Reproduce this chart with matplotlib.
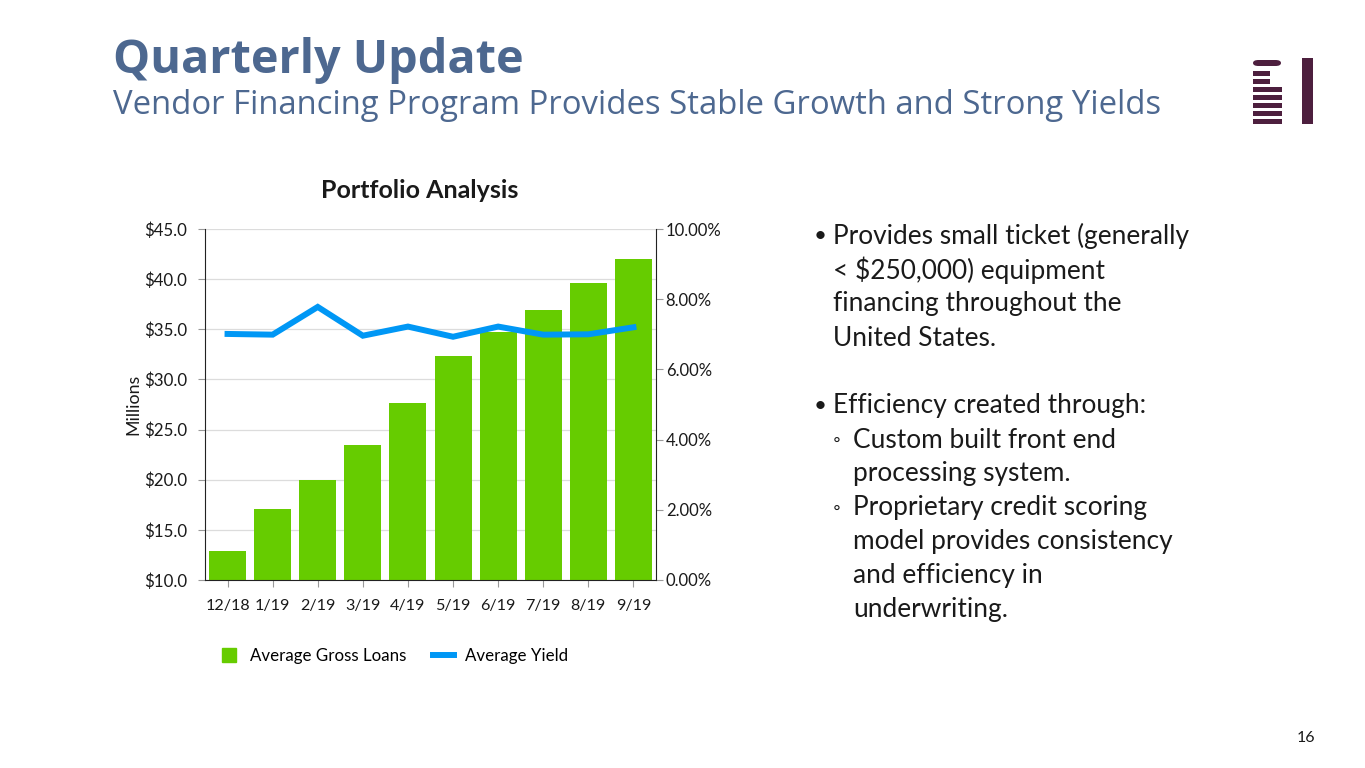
#!/usr/bin/env python3
"""Quarterly update slide: portfolio analysis bar + yield line."""

import matplotlib.pyplot as plt
from matplotlib.lines import Line2D
from matplotlib.patches import Rectangle, FancyBboxPatch
from matplotlib.ticker import FuncFormatter

MONTHS = ["12/18", "1/19", "2/19", "3/19", "4/19", "5/19", "6/19", "7/19", "8/19", "9/19"]
GROSS_LOANS = [12.9, 17.1, 20.0, 23.5, 27.6, 32.3, 34.7, 36.9, 39.6, 42.0]  # $ millions
AVG_YIELD = [7.01, 6.99, 7.78, 6.96, 7.22, 6.93, 7.22, 6.99, 7.0, 7.2]  # percent

LEFT_TICKS = [10, 15, 20, 25, 30, 35, 40, 45]
RIGHT_TICKS = [0, 2, 4, 6, 8, 10]

BULLETS = [
    ("•", 0, ["Provides small ticket (generally", "< $250,000) equipment",
              "financing throughout the", "United States."]),
    (None, 0, [""]),
    ("•", 0, ["Efficiency created through:"]),
    ("◦", 1, ["Custom built front end", "processing system."]),
    ("◦", 1, ["Proprietary credit scoring", "model provides consistency",
              "and efficiency in", "underwriting."]),
]

HEAD = "#4d6890"
GREEN = "#66cc00"
BLUE = "#0097f5"
MAROON = "#4d1f3e"
TXT = "#1a1a1a"

CHART_FONT = ["Lato", "DejaVu Sans"]
HEAD_FONT = ["Open Sans", "DejaVu Sans"]


def main() -> None:
    fig = plt.figure(figsize=(13.65, 7.68), dpi=100)
    fig.patch.set_facecolor("white")
    W, H = 1365, 768

    # slide header
    fig.text(113 / W, 1 - 73 / H, "Quarterly Update", family=HEAD_FONT,
             fontsize=33.7, fontweight="bold", color=HEAD, va="baseline")
    fig.text(113 / W, 1 - 114 / H,
             "Vendor Financing Program Provides Stable Growth and Strong Yields",
             family=HEAD_FONT, fontsize=23.7, color=HEAD, va="baseline")

    # logo
    def box(x0, y0, x1, y1):
        fig.patches.append(Rectangle((x0 / W, 1 - y1 / H), (x1 - x0) / W, (y1 - y0) / H,
                                     transform=fig.transFigure, color=MAROON, lw=0))

    fig.patches.append(FancyBboxPatch((1253 / W, 1 - 66 / H), 28 / W, 6 / H,
                                      boxstyle="round,pad=0,rounding_size=0.004",
                                      transform=fig.transFigure, color=MAROON, lw=0))
    box(1253, 71, 1270, 76)
    box(1253, 79, 1270, 84)
    for y in (87, 95, 103, 111, 119):
        box(1253, y, 1282, y + 5)
    box(1302, 58, 1313, 124)

    # chart
    ax = fig.add_axes([205 / W, 1 - 580 / H, 451 / W, 351 / H])
    x = list(range(len(MONTHS)))
    ax.bar(x, GROSS_LOANS, width=0.82, color=GREEN, zorder=2)
    ax.set_ylim(10, 45)
    ax.set_xlim(-0.5, len(MONTHS) - 0.5)
    ax.set_yticks(LEFT_TICKS)
    ax.yaxis.set_major_formatter(FuncFormatter(lambda v, _: f"${v:.1f}"))
    ax.set_xticks(x, MONTHS)
    ax.grid(axis="y", color="#dcdcdc", linewidth=0.9, zorder=0)
    ax.set_axisbelow(True)
    ax.spines["top"].set_visible(False)
    ax.spines["right"].set_visible(False)
    ax.spines["left"].set_color("#222222")
    ax.spines["bottom"].set_color("#222222")
    ax.tick_params(axis="y", length=5, color="#999999", labelsize=12.2, labelcolor=TXT, pad=8)
    ax.tick_params(axis="x", length=5, color="#999999", labelsize=11.6, labelcolor=TXT, pad=9)
    for lab in ax.get_xticklabels() + ax.get_yticklabels():
        lab.set_family(CHART_FONT)
    ax.set_ylabel("Millions", family=CHART_FONT, fontsize=12.8, color=TXT, labelpad=2)

    ax2 = ax.twinx()
    ax2.plot(x, AVG_YIELD, color=BLUE, linewidth=4.3, solid_joinstyle="miter", zorder=3)
    ax2.set_ylim(0, 10)
    ax2.set_yticks(RIGHT_TICKS)
    ax2.yaxis.set_major_formatter(FuncFormatter(lambda v, _: f"{v:.2f}%"))
    for side in ("top", "left", "bottom"):
        ax2.spines[side].set_visible(False)
    ax2.spines["right"].set_color("#222222")
    ax2.tick_params(axis="y", length=5, color="#999999", labelsize=12, labelcolor=TXT, pad=2)
    for lab in ax2.get_yticklabels():
        lab.set_family(CHART_FONT)

    fig.text(420 / W, 1 - 190 / H, "Portfolio Analysis", family=CHART_FONT, fontsize=18,
             fontweight="bold", color=TXT, ha="center", va="center")

    fig.legend(
        handles=[
            Line2D([0], [0], marker="s", linestyle="none", markersize=10.5,
                   markerfacecolor=GREEN, markeredgecolor=GREEN, label="Average Gross Loans"),
            Line2D([0], [0], color=BLUE, lw=4.3, label="Average Yield"),
        ],
        loc="center", bbox_to_anchor=(393 / W, 1 - 656 / H), ncol=2, frameon=False,
        prop={"family": CHART_FONT, "size": 12.2}, handlelength=1.25,
        columnspacing=1.6, handletextpad=0.6,
    )

    # bullets
    y = 236
    step = 34
    for marker, level, lines in BULLETS:
        tx = 833 if level == 0 else 853
        if marker:
            mx = 820 if level == 0 else 837
            fig.text(mx / W, 1 - y / H, marker, family=CHART_FONT,
                     fontsize=16 if level == 0 else 14, color=TXT, ha="center", va="center")
        for line in lines:
            if line:
                fig.text(tx / W, 1 - y / H, line, family=CHART_FONT, fontsize=18.9,
                         color=TXT, ha="left", va="center")
            y += step

    fig.text(1306 / W, 1 - 738 / H, "16", family=CHART_FONT, fontsize=11.5, color=TXT,
             ha="center", va="center")

    fig.savefig("out.png", dpi=100)
    plt.close(fig)


if __name__ == "__main__":
    main()
